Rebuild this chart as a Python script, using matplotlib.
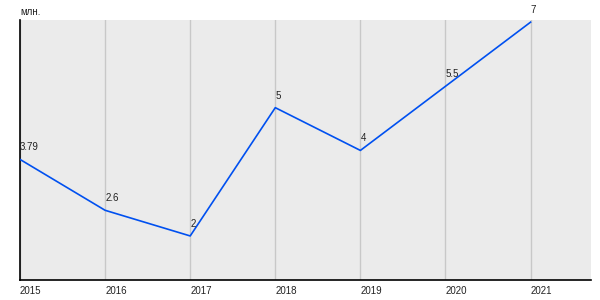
import matplotlib
matplotlib.use("Agg")
import matplotlib.pyplot as plt

plt.rcParams["font.family"] = ["Liberation Sans", "DejaVu Sans"]

years = [2015, 2016, 2017, 2018, 2019, 2020, 2021]
values = [3.79, 2.6, 2, 5, 4, 5.5, 7]
labels = ["3.79", "2.6", "2", "5", "4", "5.5", "7"]
unit = "млн."

fig = plt.figure(figsize=(6, 3), dpi=100)
ax = fig.add_axes([20/600, 20/300, 571/600, 260/300])
ax.set_facecolor("#ebebeb")

for yr in years:
    ax.axvline(yr, color="#c8c8c8", lw=1.0, zorder=1)

ax.plot(years, values, color="#0050f0", lw=1.2, zorder=3, solid_joinstyle="round")

for yr, v, t in zip(years, values, labels):
    ax.annotate(t, (yr, v), xytext=(0, 5), textcoords="offset points",
                ha="left", va="bottom", fontsize=7, color="#222222", zorder=4)

ax.set_xlim(2015, 2021.71)
ax.set_ylim(0.97, 7.05)
ax.set_xticks(years)
ax.set_xticklabels([str(y) for y in years], ha="left", fontsize=7, color="#222222")
ax.set_yticks([])
ax.tick_params(axis="x", length=0, pad=4)

for s in ["top", "right"]:
    ax.spines[s].set_visible(False)
ax.spines["left"].set_linewidth(1.2)
ax.spines["bottom"].set_linewidth(1.2)

fig.text(20/600, 1 - 12/300, unit, fontsize=7, color="#222222", va="center", ha="left")

fig.savefig("out.png", dpi=100)
